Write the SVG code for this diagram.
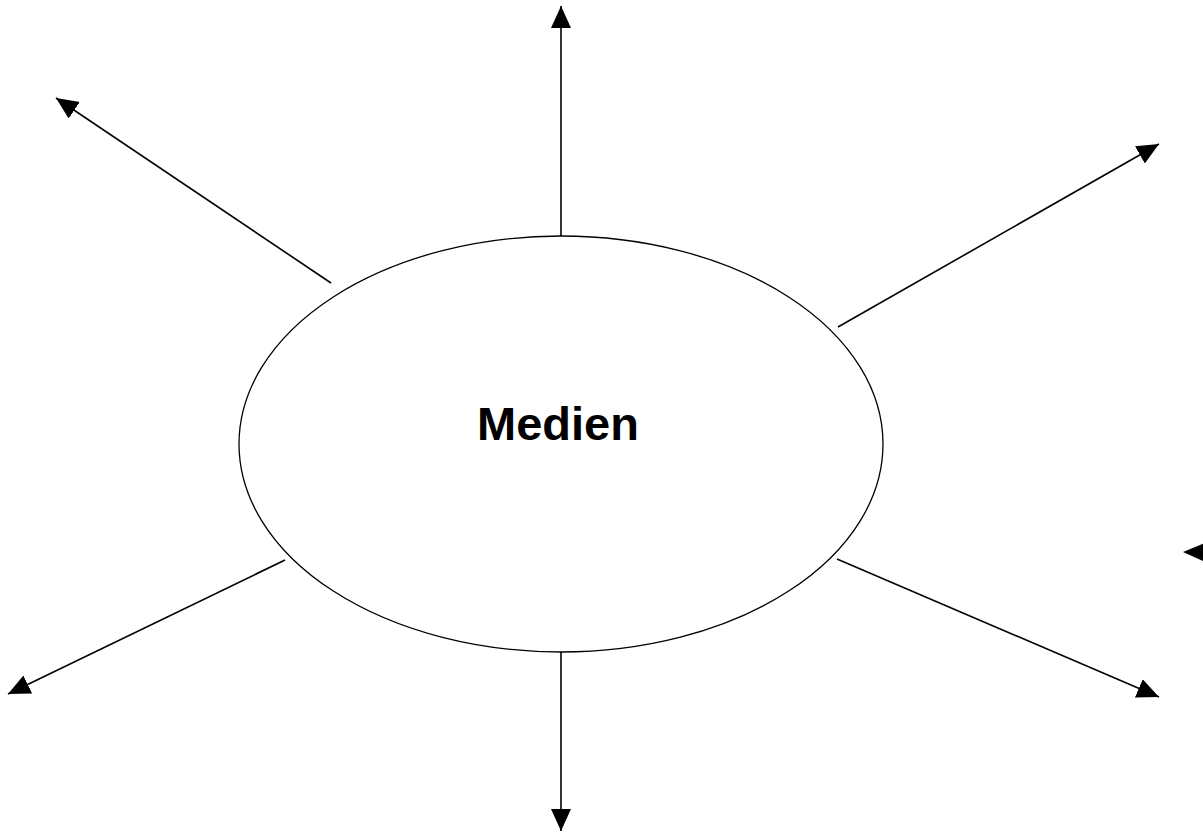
<svg xmlns="http://www.w3.org/2000/svg" width="1203" height="834" viewBox="0 0 1203 834">
<defs>
<style>
.conn{stroke:#000;stroke-width:1.6;fill:none;marker-end:url(#ah)}
.node{fill:#fff;stroke:#000;stroke-width:1.3}
.lbl{font-family:"Comic Sans MS","Liberation Sans",sans-serif;font-weight:bold;font-size:47px;fill:#000}
</style>
<marker id="ah" markerUnits="userSpaceOnUse" markerWidth="23" markerHeight="21" refX="22" refY="10" orient="auto" viewBox="0 0 23 21">
<path d="M0,0 L22,10 L0,20 Z" fill="#000"/>
</marker>
</defs>
<rect width="1203" height="834" fill="#fff"/>
<g id="connectors">
<line class="conn" x1="561" y1="236" x2="561" y2="6"/>
<line class="conn" x1="331" y1="283" x2="56" y2="98"/>
<line class="conn" x1="838" y1="327" x2="1159" y2="144"/>
<line class="conn" x1="285" y1="560" x2="8" y2="694"/>
<line class="conn" x1="837" y1="559" x2="1159" y2="697"/>
<line class="conn" x1="561" y1="652" x2="561" y2="831"/>
<polygon points="1183,552 1205,543 1205,562" fill="#000"/>
</g>
<g id="medien">
<ellipse class="node" cx="561" cy="444" rx="322" ry="208"/>
<text class="lbl" x="558" y="440" text-anchor="middle">Medien</text>
</g>
</svg>
